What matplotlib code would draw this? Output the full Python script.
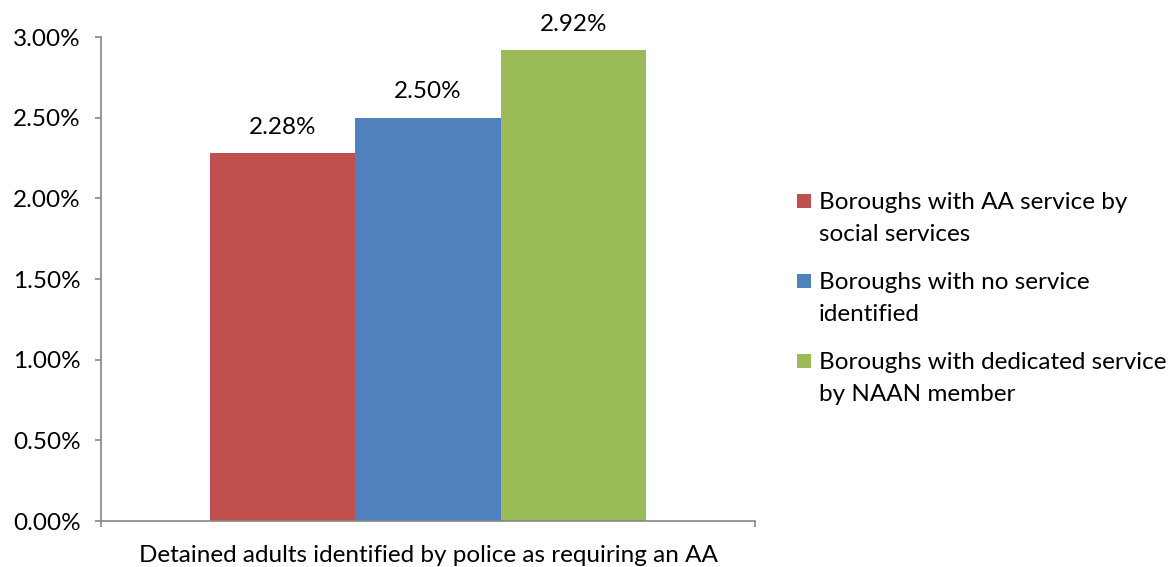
import matplotlib
matplotlib.use("Agg")
import matplotlib.pyplot as plt
from matplotlib.patches import Rectangle

# Data
category = "Detained adults identified by police as requiring an AA"
series_names = [
    "Boroughs with AA service by\nsocial services",
    "Boroughs with no service\nidentified",
    "Boroughs with dedicated service\nby NAAN member",
]
values = [2.28, 2.50, 2.92]  # percent
colors = ["#C0504D", "#4F81BD", "#9BBB59"]
yticks = [0.0, 0.5, 1.0, 1.5, 2.0, 2.5, 3.0]

plt.rcParams["font.family"] = ["Lato", "DejaVu Sans"]
FS = 17.5
AXIS_GRAY = "#868686"

W, H = 1173, 567
fig = plt.figure(figsize=(W / 100, H / 100), dpi=100)
ax = fig.add_axes([101 / W, (H - 521) / H, (755 - 101) / W, (521 - 37) / H])

bar_w = 0.222
offsets = [-bar_w, 0.0, bar_w]
for off, v, c in zip(offsets, values, colors):
    ax.bar(off, v, width=bar_w, color=c, edgecolor="none")
    ax.annotate(f"{v:.2f}%", xy=(off, v), xytext=(0, 11), textcoords="offset points",
                ha="center", va="bottom", fontsize=FS, color="black")

ax.set_xlim(-0.5, 0.5)
ax.set_ylim(0, 3.0)
ax.set_yticks(yticks)
ax.set_yticklabels([f"{t:.2f}%" for t in yticks], fontsize=FS)
ax.set_xticks([-0.5, 0.5])
ax.set_xticklabels(["", ""])
ax.set_xlabel(category, fontsize=FS, labelpad=12.5)

for side in ("top", "right"):
    ax.spines[side].set_visible(False)
for side in ("left", "bottom"):
    ax.spines[side].set_color(AXIS_GRAY)
    ax.spines[side].set_linewidth(1.2)
ax.tick_params(axis="both", direction="out", length=4.5, width=1.2, color=AXIS_GRAY)
ax.tick_params(axis="y", pad=10)
ax.tick_params(axis="x", pad=0)

# Legend: one square per series beside the first line of its label
leg_x_sq = 797 / W
leg_x_txt = 819 / W
entry_baselines = [209, 289, 369]
line_step = 32
sq = 14
for name, c, yb in zip(series_names, colors, entry_baselines):
    fig.patches.append(Rectangle((leg_x_sq, (H - yb + 1) / H), sq / W, sq / H,
                                 transform=fig.transFigure, facecolor=c, edgecolor="none"))
    for i, line in enumerate(name.split("\n")):
        fig.text(leg_x_txt, (H - yb - i * line_step) / H, line, fontsize=FS,
                 va="baseline", ha="left", transform=fig.transFigure)

fig.savefig("out.png", dpi=100)
